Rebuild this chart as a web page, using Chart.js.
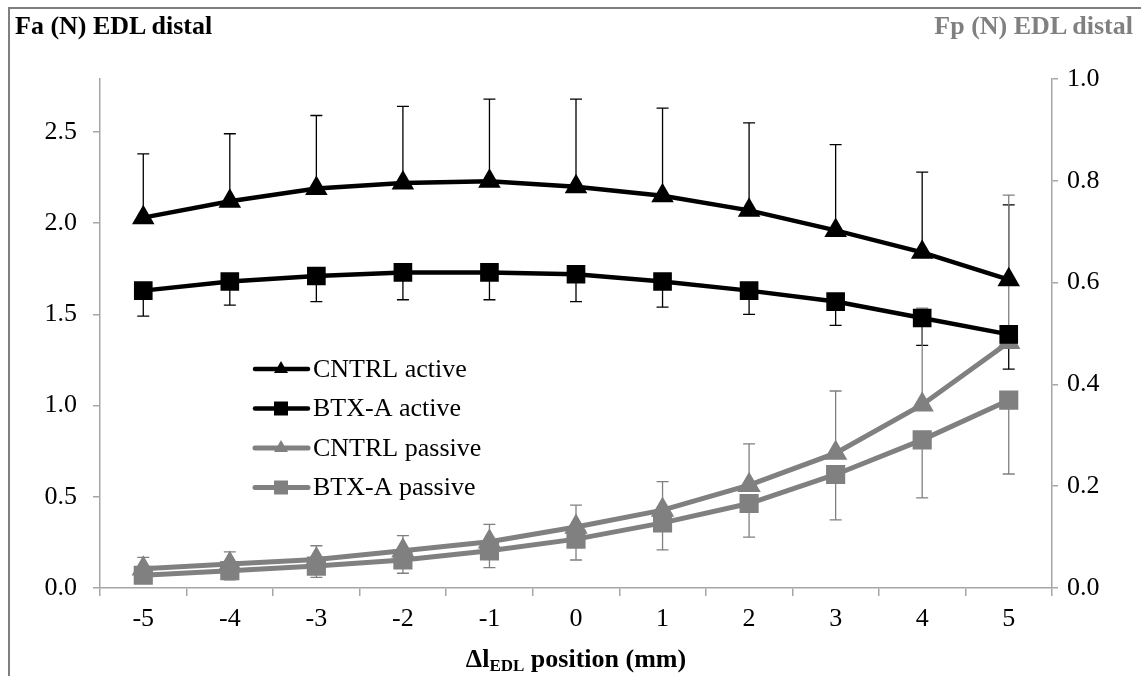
<!DOCTYPE html>
<html>
<head>
<meta charset="utf-8">
<script src="https://cdn.jsdelivr.net/npm/chart.js@4/dist/chart.umd.min.js"></script>
<style>
  body { margin: 0; background: #fff; }
  #wrap { position: relative; width: 1141px; height: 676px; overflow: hidden; }
  #frame { position: absolute; left: 8px; top: 7px; width: 1300px; height: 800px;
           border-left: 2px solid #7f7f7f; border-top: 2px solid #7f7f7f; }
  .title { position: absolute; top: 13px; font: bold 26px "Liberation Serif", serif; line-height: 1; white-space: nowrap; }
  #tl { left: 15px; color: #000; }
  #tr { right: 8px; color: #808080; }
  #xt { position: absolute; left: 100px; width: 952px; top: 646px; text-align: center;
        font: bold 26px "Liberation Serif", serif; line-height: 1; }
  #xt sub { font-size: 17px; vertical-align: -4px; }
  canvas { position: absolute; left: 0; top: 0; }
</style>
</head>
<body>
<div id="wrap">
  <div id="frame"></div>
  <canvas id="chart" width="1141" height="676"></canvas>
  <div class="title" id="tl">Fa (N) EDL distal</div>
  <div class="title" id="tr">Fp (N) EDL distal</div>
  <div id="xt">&Delta;l<sub>EDL</sub> position (mm)</div>
</div>
<script>
const positions = ['-5', '-4', '-3', '-2', '-1', '0', '1', '2', '3', '4', '5'];

// active force, left axis (N)
const cntrlActive = [2.03, 2.12, 2.19, 2.22, 2.23, 2.20, 2.15, 2.07, 1.96, 1.84, 1.69];
const cntrlActiveSD = [0.35, 0.37, 0.40, 0.42, 0.45, 0.48, 0.48, 0.48, 0.47, 0.44, 0.41];
const btxActive = [1.63, 1.68, 1.71, 1.73, 1.73, 1.72, 1.68, 1.63, 1.57, 1.48, 1.39];
const btxActiveSD = [0.14, 0.13, 0.14, 0.15, 0.15, 0.15, 0.14, 0.13, 0.13, 0.15, 0.19];

// passive force, right axis (N)
const cntrlPassive = [0.038, 0.047, 0.056, 0.073, 0.091, 0.120, 0.153, 0.202, 0.265, 0.360, 0.483];
const cntrlPassiveSD = [0.022, 0.024, 0.027, 0.030, 0.034, 0.043, 0.056, 0.081, 0.122, 0.190, 0.289];
const btxPassive = [0.025, 0.034, 0.043, 0.055, 0.073, 0.096, 0.128, 0.166, 0.223, 0.291, 0.369];
const btxPassiveSD = [0.010, 0.018, 0.022, 0.026, 0.033, 0.041, 0.053, 0.066, 0.089, 0.114, 0.145];

const leftTicks = [0, 0.5, 1.0, 1.5, 2.0, 2.5];

const BLACK = '#000000';
const GREY = '#808080';
const AXIS = '#a6a6a6';

// error bars: dir +1 = plus only, -1 = minus only
const errorBars = {
  id: 'errorBars',
  beforeDatasetsDraw(chart){
    const ctx = chart.ctx;
    const xs = chart.scales.x;
    chart.data.datasets.forEach(ds => {
      const ys = chart.scales[ds.yAxisID];
      ctx.save();
      ctx.strokeStyle = ds.borderColor;
      ctx.lineWidth = 1.3;
      ds.data.forEach((v, i) => {
        const x = xs.getPixelForValue(i);
        const y0 = ys.getPixelForValue(v);
        const y1 = ys.getPixelForValue(v + ds.errDir * ds.err[i]);
        ctx.beginPath();
        ctx.moveTo(x, y0);
        ctx.lineTo(x, y1);
        ctx.moveTo(x - 6, y1);
        ctx.lineTo(x + 6, y1);
        ctx.stroke();
      });
      ctx.restore();
    });
  }
};

function marker(ctx, style, x, y, color){
  ctx.fillStyle = color;
  ctx.beginPath();
  if(style === 'triangle'){
    ctx.moveTo(x, y - 8);
    ctx.lineTo(x + 7, y + 4);
    ctx.lineTo(x - 7, y + 4);
  } else {
    ctx.rect(x - 7, y - 7, 14, 14);
  }
  ctx.closePath();
  ctx.fill();
}

const legendBox = {
  id: 'legendBox',
  afterDraw(chart){
    const ctx = chart.ctx;
    chart.data.datasets.forEach((ds, i) => {
      const y = 369 + i * 39.5;
      ctx.save();
      ctx.strokeStyle = ds.borderColor;
      ctx.lineWidth = ds.borderWidth;
      ctx.lineCap = 'round';
      ctx.beginPath();
      ctx.moveTo(255, y);
      ctx.lineTo(308, y);
      ctx.stroke();
      marker(ctx, ds.pointStyle, 281, y, ds.borderColor);
      ctx.fillStyle = '#000';
      ctx.font = '26px "Liberation Serif", serif';
      ctx.textBaseline = 'middle';
      ctx.fillText(ds.label, 313, y + 1);
      ctx.restore();
    });
  }
};

new Chart(document.getElementById('chart'), {
  type: 'line',
  data: {
    labels: positions,
    datasets: [
      { label: 'CNTRL active', data: cntrlActive, err: cntrlActiveSD, errDir: 1, yAxisID: 'y',
        borderColor: BLACK, backgroundColor: BLACK, borderWidth: 4.5, pointStyle: 'triangle', pointRadius: 8.5 },
      { label: 'BTX-A active', data: btxActive, err: btxActiveSD, errDir: -1, yAxisID: 'y',
        borderColor: BLACK, backgroundColor: BLACK, borderWidth: 4.5, pointStyle: 'rect', pointRadius: 10 },
      { label: 'CNTRL passive', data: cntrlPassive, err: cntrlPassiveSD, errDir: 1, yAxisID: 'y1',
        borderColor: GREY, backgroundColor: GREY, borderWidth: 5, pointStyle: 'triangle', pointRadius: 8.5 },
      { label: 'BTX-A passive', data: btxPassive, err: btxPassiveSD, errDir: -1, yAxisID: 'y1',
        borderColor: GREY, backgroundColor: GREY, borderWidth: 5, pointStyle: 'rect', pointRadius: 10 }
    ]
  },
  options: {
    responsive: false,
    animation: false,
    layout: { padding: { top: 79, left: 0, right: 0, bottom: 0 } },
    elements: { line: { tension: 0 }, point: { borderWidth: 0 } },
    plugins: { legend: { display: false }, tooltip: { enabled: false } },
    scales: {
      x: {
        offset: true,
        grid: { offset: true, drawOnChartArea: false, tickLength: 8, color: AXIS, lineWidth: 1.5 },
        border: { color: AXIS, width: 1.5 },
        ticks: { color: '#000', padding: 8, font: { family: 'Liberation Serif', size: 26 } },
        afterFit(s){ s.height = 88; }
      },
      y: {
        position: 'left',
        min: 0, max: 2.79,
        afterBuildTicks(s){ s.ticks = leftTicks.map(v => ({ value: v })); },
        grid: { drawOnChartArea: false, tickLength: 7, color: AXIS, lineWidth: 1.5 },
        border: { color: AXIS, width: 1.5 },
        ticks: { color: '#000', padding: 16, font: { family: 'Liberation Serif', size: 26 },
                 callback: v => v.toFixed(1) },
        afterFit(s){ s.width = 100; }
      },
      y1: {
        position: 'right',
        min: 0, max: 1,
        grid: { drawOnChartArea: false, tickLength: 6, color: AXIS, lineWidth: 1.5 },
        border: { color: AXIS, width: 1.5 },
        ticks: { stepSize: 0.2, color: '#000', padding: 9, font: { family: 'Liberation Serif', size: 26 },
                 callback: v => v.toFixed(1) },
        afterFit(s){ s.width = 89; }
      }
    }
  },
  plugins: [errorBars, legendBox]
});
</script>
</body>
</html>
